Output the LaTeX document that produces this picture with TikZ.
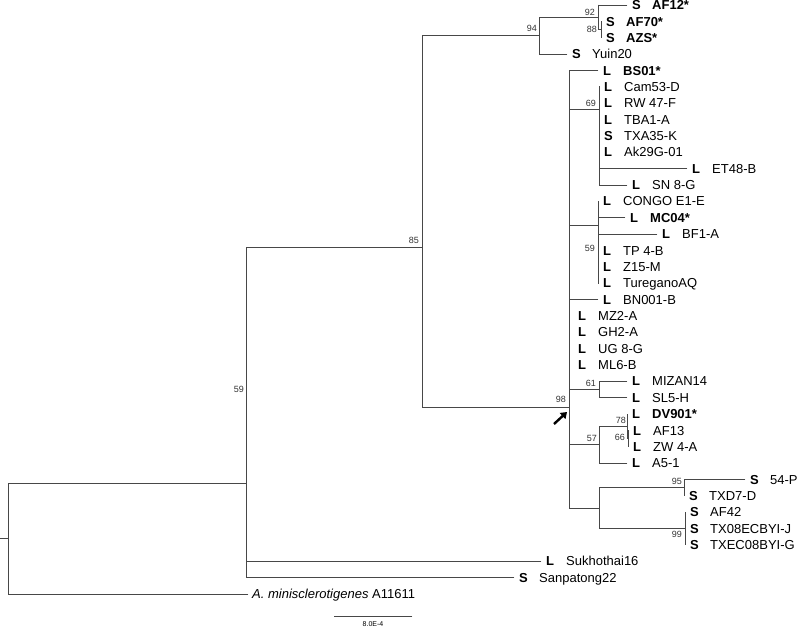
\documentclass[tikz,border=0pt]{standalone}
\usepackage{fontspec}
\setmainfont{Liberation Sans}
\usetikzlibrary{arrows.meta}
\tikzset{
  br/.style={line width=0.8pt, draw=black!72, line cap=rect},
  leaf/.style={anchor=west, inner xsep=5pt, inner ysep=0pt, text height=9.3pt, text depth=0pt, font=\fontsize{13}{15}\selectfont},
  bs/.style={anchor=east, inner sep=0pt, text height=6.4pt, text depth=0pt, font=\fontsize{9}{10}\selectfont, text=black!80},
}
\newcommand\lf[4]{\node[leaf] (#1) at (#2) {\makebox[20pt][l]{\textbf{#3}}#4};}
\begin{document}
\begin{tikzpicture}[x=1pt,y=-1pt]
\useasboundingbox (0,0) rectangle (799,628);
% internal nodes
\coordinate (stub) at (0,538.5);
\coordinate (root) at (8,538.5);
\coordinate (n59) at (246,483);
\coordinate (n85) at (422,247);
\coordinate (n94) at (539,35.7);
\coordinate (n92) at (598,17.3);
\coordinate (n88) at (601,29.6);
\coordinate (n98) at (569,407);
\coordinate (n69) at (599,109);
\coordinate (n59b) at (598,225);
\coordinate (n61) at (599,389.5);
\coordinate (n57) at (599,444.7);
\coordinate (n78) at (627,426.3);
\coordinate (n66) at (628,438.6);
\coordinate (n9599) at (599,508);
\coordinate (n95) at (684,487.6);
\coordinate (n99) at (685,528.5);
% leaves
\lf{AF12}{627,5.0}{S}{\textbf{AF12*}}
\lf{AF70}{601,21.4}{S}{\textbf{AF70*}}
\lf{AZS}{601,37.7}{S}{\textbf{AZS*}}
\lf{Yuin}{567,54.1}{S}{Yuin20}
\lf{BS01}{598,70.4}{L}{\textbf{BS01*}}
\lf{Cam}{599,86.8}{L}{Cam53-D}
\lf{RW}{599,103.2}{L}{RW 47-F}
\lf{TBA}{599,119.5}{L}{TBA1-A}
\lf{TXA}{599,135.9}{S}{TXA35-K}
\lf{Ak}{599,152.2}{L}{Ak29G-01}
\lf{ET}{687,168.6}{L}{ET48-B}
\lf{SN}{627,185.0}{L}{SN 8-G}
\lf{CONGO}{598,201.3}{L}{CONGO E1-E}
\lf{MC}{625,217.7}{L}{\textbf{MC04*}}
\lf{BF}{657,234.0}{L}{BF1-A}
\lf{TP}{598,250.4}{L}{TP 4-B}
\lf{Z15}{598,266.8}{L}{Z15-M}
\lf{Tur}{598,283.1}{L}{TureganoAQ}
\lf{BN}{598,299.5}{L}{BN001-B}
\lf{MZ}{573,315.8}{L}{MZ2-A}
\lf{GH}{573,332.2}{L}{GH2-A}
\lf{UG}{573,348.6}{L}{UG 8-G}
\lf{ML}{573,364.9}{L}{ML6-B}
\lf{MIZ}{627,381.3}{L}{MIZAN14}
\lf{SL}{627,397.6}{L}{SL5-H}
\lf{DV}{627,414.0}{L}{\textbf{DV901*}}
\lf{AFt}{628,430.4}{L}{AF13}
\lf{ZW}{628,446.7}{L}{ZW 4-A}
\lf{A5}{627,463.1}{L}{A5-1}
\lf{P54}{745,479.4}{S}{54-P}
\lf{TXD}{684,495.8}{S}{TXD7-D}
\lf{AFft}{685,512.2}{S}{AF42}
\lf{TXo}{685,528.5}{S}{TX08ECBYI-J}
\lf{TXE}{685,544.9}{S}{TXEC08BYI-G}
\lf{Suk}{541,561.2}{L}{Sukhothai16}
\lf{San}{514,577.6}{S}{Sanpatong22}
\node[leaf, inner xsep=4pt] (Amin) at (248,594.0) {\textit{A. minisclerotigenes} A11611};
% verticals
\draw[br] (root |- n59) -- (root |- Amin.west);
\draw[br] (n59 |- n85) -- (n59 |- San.west);
\draw[br] (n85 |- n94) -- (n85 |- n98);
\draw[br] (n94 |- n92) -- (n94 |- Yuin.west);
\draw[br] (n92 |- AF12.west) -- (n92 |- n88);
\draw[br] (n88 |- AF70.west) -- (n88 |- AZS.west);
\draw[br] (n98 |- BS01.west) -- (n98 |- n9599);
\draw[br] (n69 |- Cam.west) -- (n69 |- SN.west);
\draw[br] (n59b |- CONGO.west) -- (n59b |- Tur.west);
\draw[br] (n61 |- MIZ.west) -- (n61 |- SL.west);
\draw[br] (n57 |- n78) -- (n57 |- A5.west);
\draw[br] (n78 |- DV.west) -- (n78 |- n66);
\draw[br] (n66 |- AFt.west) -- (n66 |- ZW.west);
\draw[br] (n9599 |- n95) -- (n9599 |- n99);
\draw[br] (n95 |- P54.west) -- (n95 |- TXD.west);
\draw[br] (n99 |- AFft.west) -- (n99 |- TXE.west);
% internal horizontals
\draw[br] (stub) -- (root);
\draw[br] (root |- n59) -- (n59);
\draw[br] (n59 |- n85) -- (n85);
\draw[br] (n85 |- n94) -- (n94);
\draw[br] (n94 |- n92) -- (n92);
\draw[br] (n92 |- n88) -- (n88);
\draw[br] (n85 |- n98) -- (n98);
\draw[br] (n98 |- n69) -- (n69);
\draw[br] (n98 |- n59b) -- (n59b);
\draw[br] (n98 |- n61) -- (n61);
\draw[br] (n98 |- n57) -- (n57);
\draw[br] (n57 |- n78) -- (n78);
\draw[br] (n78 |- n66) -- (n66);
\draw[br] (n98 |- n9599) -- (n9599);
\draw[br] (n9599 |- n95) -- (n95);
\draw[br] (n9599 |- n99) -- (n99);
% leaf branches
\draw[br] (n92 |- AF12.west) -- (AF12.west);
\draw[br] (n94 |- Yuin.west) -- (Yuin.west);
\draw[br] (n98 |- BS01.west) -- (BS01.west);
\draw[br] (n69 |- ET.west) -- (ET.west);
\draw[br] (n69 |- SN.west) -- (SN.west);
\draw[br] (n59b |- MC.west) -- (MC.west);
\draw[br] (n59b |- BF.west) -- (BF.west);
\draw[br] (n98 |- BN.west) -- (BN.west);
\draw[br] (n61 |- MIZ.west) -- (MIZ.west);
\draw[br] (n61 |- SL.west) -- (SL.west);
\draw[br] (n57 |- A5.west) -- (A5.west);
\draw[br] (n95 |- P54.west) -- (P54.west);
\draw[br] (n59 |- Suk.west) -- (Suk.west);
\draw[br] (n59 |- San.west) -- (San.west);
\draw[br] (root |- Amin.west) -- (Amin.west);
% bootstrap values
\node[bs] (b92) at (595,12) {92};
\node[bs] (b88) at (597,29) {88};
\node[bs] (b94) at (537,28) {94};
\node[bs] (b85) at (419,240) {85};
\node[bs] (b98) at (566,399) {98};
\node[bs] (b69) at (596,103) {69};
\node[bs] (b59b) at (595,248) {59};
\node[bs] (b61) at (596,383) {61};
\node[bs] (b57) at (597,438) {57};
\node[bs] (b78) at (626,420) {78};
\node[bs] (b66) at (625,437) {66};
\node[bs] (b95) at (682,481) {95};
\node[bs] (b99) at (682,534) {99};
\node[bs] (b59) at (244,389) {59};
% arrow
\coordinate (arS) at (554,424);
\coordinate (arE) at (567,412);
\draw[line width=2.4pt, -{Triangle[length=6pt,width=8pt]}] (arS) -- (arE);
% scale bar
\coordinate (sbL) at (334,616);
\coordinate (sbR) at (412,616);
\draw[br] (sbL) -- (sbR);
\node[font=\fontsize{7}{8}\selectfont, inner sep=0pt] (sbl) at (373,624) {8.0E-4};
\end{tikzpicture}
\end{document}
